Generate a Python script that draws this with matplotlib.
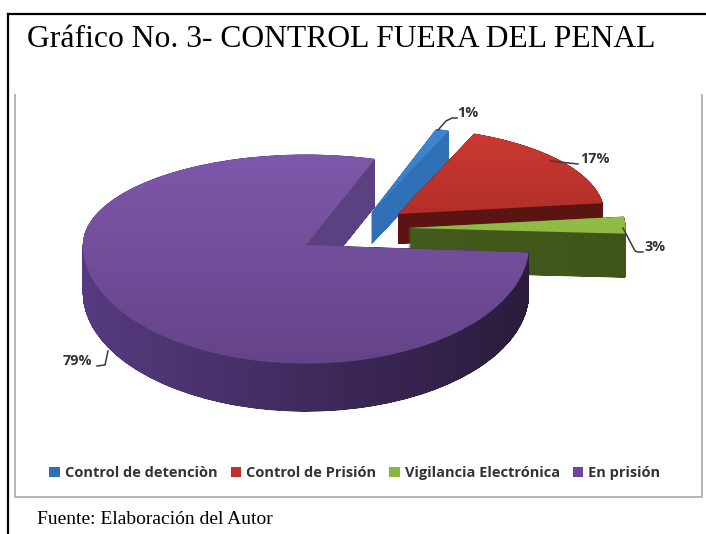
import numpy as np
import matplotlib
matplotlib.use('Agg')
import matplotlib.pyplot as plt
from matplotlib.colors import to_rgb
from matplotlib.patches import PathPatch, Patch
from matplotlib.path import Path

title = 'Gráfico No. 3- CONTROL FUERA DEL PENAL'
source = 'Fuente: Elaboración del Autor'
categories = ['Control de detenciòn', 'Control de Prisión', 'Vigilancia Electrónica', 'En prisión']
values = [1, 17, 3, 79]
pct_labels = ['1%', '17%', '3%', '79%']
legend_colors = ['#2f6fb5', '#c0322c', '#8db63f', '#6a479a']

W, H = 706, 534
RX, RY = 222.0, 93.0   # pixels per unit radius, the pie is seen at a slant
START = 72

# where each slice sits in the picture (pixels), how big and how thick
centers = [(371, 213), (398, 214), (408, 228), (306, 245)]
radii = [0.95, 0.93, 0.98, 1.005]
depths = [32, 30, 44, 48]
# perspective: the far half of the purple slice is flatter than the near half
far_scale = [1, 1, 1, 90 / 93]
near_scale = [1, 1, 1, 118 / 93]
top_colors = [('#3f86cf', '#3273bb'), ('#cf3a33', '#8d201c'), ('#9ccb4c', '#7ea338'), ('#7f58ab', '#5d3f80')]
wall_colors = [('#2f70b6', '#2f70b6'), ('#5e1512', '#5a1411'), ('#4c6321', '#3f5419'), ('#563b80', '#2a1b3b')]
notch_color = '#5c4182'


def px(x):
    return x / RX


def py(y):
    return (H - y) / RY


fig = plt.figure(figsize=(W / 100, H / 100), dpi=100, facecolor='white')
ax = fig.add_axes([0, 0, 1, 1])


def set_limits():
    ax.set_xlim(px(0), px(W))
    ax.set_ylim(py(H), py(0))
    ax.set_aspect('auto')
    ax.axis('off')


def one_slice(i, cx, cy, r):
    wedges, _ = ax.pie(values, startangle=START, counterclock=False, radius=r,
                       center=(px(cx), py(cy)))
    for j, w in enumerate(wedges):
        if j != i:
            w.remove()
    wedges[i].set_visible(False)
    # stretch the outline around the slice apex
    p = wedges[i].get_path()
    v = p.vertices.copy()
    c = py(cy)
    v[:, 1] = c + (v[:, 1] - c) * np.where(v[:, 1] > c, far_scale[i], near_scale[i])
    return Path(v, p.codes)


def gradient(c_a, c_b, horizontal=False, n=200):
    a = np.array(to_rgb(c_a))
    b = np.array(to_rgb(c_b))
    t = np.linspace(0, 1, n)
    ramp = a[None, :] * (1 - t[:, None]) + b[None, :] * t[:, None]
    if horizontal:
        return np.tile(ramp[None, :, :], (n, 1, 1))
    return np.tile(ramp[:, None, :], (1, n, 1))


def put_image(img, x0, x1, y0, y1, clip_path, z):
    clip = PathPatch(clip_path, transform=ax.transData, visible=False)
    ax.add_patch(clip)
    im = ax.imshow(img, extent=(px(x0), px(x1), py(y1), py(y0)), aspect='auto',
                   interpolation='bilinear', zorder=z)
    im.set_clip_path(clip)
    return im


for i in range(len(values)):
    cx, cy = centers[i]
    r = radii[i]
    x0, x1 = cx - RX * r - 5, cx + RX * r + 5
    y0 = cy - RY * r * far_scale[i] - 5
    y1 = cy + RY * r * near_scale[i] + depths[i] + 5
    z = 2 + i * 2

    # side wall: the slice outline swept downwards
    top = one_slice(i, cx, cy, r)
    paths = [Path(top.vertices + [0, -d / RY], top.codes)
             for d in np.arange(0, depths[i] + 0.25, 0.25)]
    wall = Path.make_compound_path(*paths)
    img = gradient(wall_colors[i][0], wall_colors[i][1], horizontal=True)
    if i == 3:
        # the cut face inside the notch is lit, the front wall is not
        rows = np.linspace(y0, y1, img.shape[0])
        img[rows < cy + 2] = to_rgb(notch_color)
    put_image(img, x0, x1, y0, y1, wall, z)

    # top face
    put_image(gradient(top_colors[i][0], top_colors[i][1]), x0, x1, y0, y1, top, z + 1)
    set_limits()

# leader lines
leaders = [
    ([438, 446, 452, 457], [130, 121, 118, 118]),
    ([550, 578], [161, 164]),
    ([623, 635, 638, 643], [228, 251, 252, 252]),
    ([97, 105, 108], [366, 365, 351]),
]
label_pos = [(457, 113), (580, 159), (644, 247), (63, 361)]
for (lx, ly), (tx, ty), lab in zip(leaders, label_pos, pct_labels):
    ax.plot(px(np.array(lx)), py(np.array(ly)), color='#3a3a3a', lw=1.1, zorder=20)
    ax.text(px(tx), py(ty), lab, fontsize=10.4, fontweight='bold', color='#333333',
            family='Open Sans', ha='left', va='center', zorder=21)

# frames
ax.plot(px(np.array([8, 8])), py(np.array([H, 14])), color='black', lw=1.6, zorder=30)
ax.plot(px(np.array([8, W])), py(np.array([14, 14])), color='black', lw=1.6, zorder=30)
ax.plot(px(np.array([15, 15, 702, 702])), py(np.array([95, 497, 497, 95])),
        color='#b4b4b4', lw=1.4, zorder=30)

ax.text(px(27), py(39), title, fontsize=22.8, family='Liberation Serif', color='black',
        ha='left', va='center', zorder=31)
ax.text(px(37), py(519), source, fontsize=14, family='Liberation Serif', color='black',
        ha='left', va='center', zorder=31)

handles = [Patch(facecolor=c, edgecolor='none') for c in legend_colors]
ax.legend(handles, categories, ncol=4, frameon=False, loc='center',
          bbox_to_anchor=(355 / W, 1 - 473 / H), bbox_transform=fig.transFigure,
          prop={'family': 'Open Sans', 'weight': 'bold', 'size': 10.55},
          handlelength=0.7, handleheight=0.7, handletextpad=0.35, columnspacing=0.9,
          labelcolor='#333333')

set_limits()
fig.savefig('out.png', dpi=100)
